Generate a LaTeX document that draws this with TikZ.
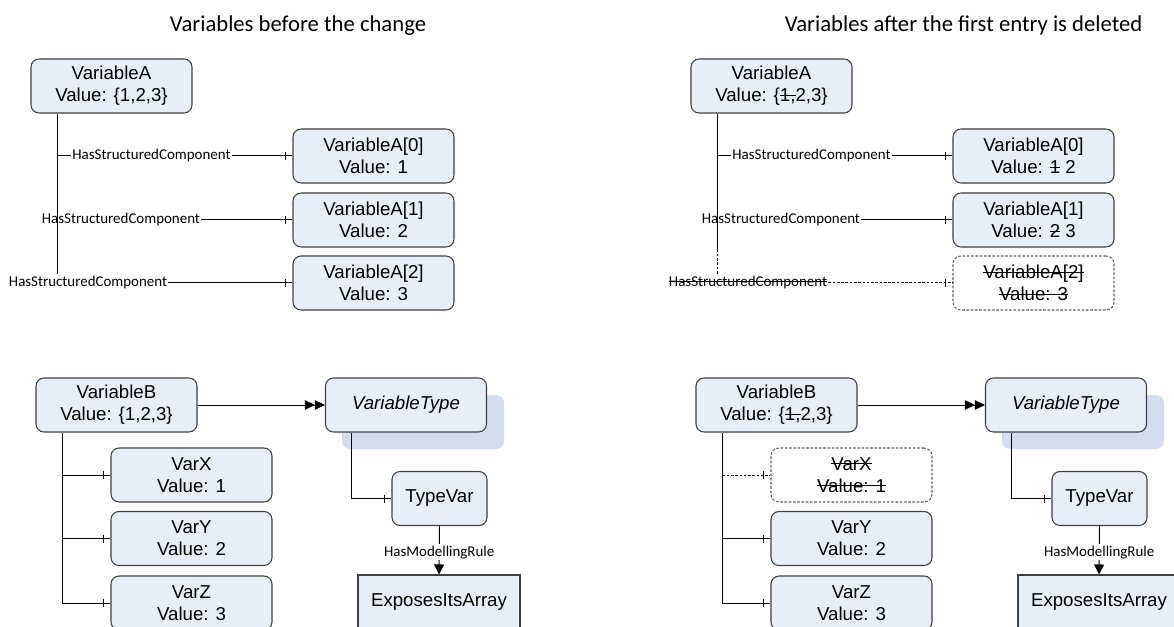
\documentclass[tikz,border=0pt]{standalone}
\usepackage{fontspec}
\setmainfont{Liberation Sans}
\newfontfamily\calfont{Carlito}
\usetikzlibrary{arrows.meta,calc}
\definecolor{boxfill}{HTML}{E8EEF8}
\definecolor{boxline}{HTML}{404040}
\definecolor{shadowfill}{HTML}{D3DDEE}
\definecolor{goneline}{HTML}{606060}
\newsavebox\strkbox
\newcommand{\strk}[1]{\sbox\strkbox{#1}\rlap{\rule[0.34em]{\wd\strkbox}{0.6pt}}\usebox\strkbox}
\newcommand{\mytick}[1]{\draw[conn] ($(#1.west)+(-7,-4)$) -- ++(0,8);}
\begin{document}
\begin{tikzpicture}[x=0.75pt,y=-0.75pt,
  vbox/.style={draw=boxline, fill=boxfill, rounded corners=6pt, line width=0.8pt,
    minimum width=120.75pt, minimum height=40.5pt, inner sep=0pt, align=center,
    font=\fontsize{14}{16.5}\selectfont},
  gonebox/.style={vbox, fill=white, draw=goneline, dash pattern=on 2pt off 1.2pt},
  lbl/.style={fill=white, inner sep=1pt, font=\calfont\fontsize{11.2}{13}\selectfont},
  ttl/.style={font=\calfont\fontsize{17}{20}\selectfont, anchor=base},
  conn/.style={draw=black, line width=0.75pt},
  gone/.style={conn, dash pattern=on 2pt off 1.2pt},
  shadowbox/.style={fill=shadowfill, rounded corners=6pt, minimum width=121.5pt,
    minimum height=40.5pt, inner sep=0pt},
  dbl/.style={-{Triangle[length=7.5pt,width=7pt]Triangle[length=7.5pt,width=7pt]}},
  sgl/.style={-{Triangle[length=7.5pt,width=7.5pt]}},
]
\useasboundingbox (0,0) rectangle (1174,627);
\clip (0,0) rectangle (1174,627);

% titles
\node[ttl] (t1) at (298,32) {Variables before the change};
\node[ttl] (t2) at (963.5,32) {Variables after the first entry is deleted};

% ---------- top left ----------
\node[vbox] (VA) at (111.5,86) {VariableA\\Value: \{1,2,3\}};
\node[vbox] (A0) at (373.5,156) {VariableA[0]\\Value: 1};
\node[vbox] (A1) at (373.5,220) {VariableA[1]\\Value: 2};
\node[vbox] (A2) at (373.5,283) {VariableA[2]\\Value: 3};
\coordinate (vaX) at ($(VA.south west)+(27,0)$);
\coordinate (vaEnd) at ($(VA.south west)+(27,160)$);
\coordinate (b3) at ($(vaX)+(0,169)$);
\draw[conn] (vaX |- A0.west) -- node[lbl,pos=0.40]{HasStructuredComponent} (A0.west);
\draw[conn] (vaX |- A1.west) -- node[lbl,pos=0.27]{HasStructuredComponent} (A1.west);
\draw[conn] (b3) -- node[lbl,pos=0.13]{HasStructuredComponent} (b3 -| A2.west);
\draw[conn] (vaX) -- (vaEnd);
\mytick{A0} \mytick{A1} \mytick{A2}

% ---------- top right ----------
\begin{scope}[xshift=495pt]
\node[vbox] (VAr) at (111.5,86) {VariableA\\Value: \{\strk{1,}2,3\}};
\node[vbox] (R0) at (373.5,156) {VariableA[0]\\Value: \strk{1} 2};
\node[vbox] (R1) at (373.5,220) {VariableA[1]\\Value: \strk{2} 3};
\node[gonebox] (R2) at (373.5,283) {\strk{VariableA[2]}\\\strk{Value: 3}};
\end{scope}
\coordinate (varX) at ($(VAr.south west)+(27,0)$);
\coordinate (varMid) at ($(VAr.south west)+(27,136)$);
\coordinate (varEnd) at ($(VAr.south west)+(27,160)$);
\coordinate (rb3) at ($(varX)+(0,169)$);
\draw[conn] (varX |- R0.west) -- node[lbl,pos=0.40]{HasStructuredComponent} (R0.west);
\draw[conn] (varX |- R1.west) -- node[lbl,pos=0.27]{HasStructuredComponent} (R1.west);
\draw[gone] (rb3) -- node[lbl,pos=0.13]{\strk{HasStructuredComponent}} (rb3 -| R2.west);
\draw[conn] (varX) -- (varMid);
\draw[gone] (varMid) -- (varEnd);
\mytick{R0} \mytick{R1} \mytick{R2}

% ---------- bottom left ----------
\node[shadowbox] (VTs) at (423,422) {};
\node[vbox] (VB) at (116.5,405) {VariableB\\Value: \{1,2,3\}};
\node[vbox, font=\fontsize{14}{16.5}\selectfont\itshape] (VT) at (406,405) {VariableType};
\node[vbox] (VX) at (191.5,475) {VarX\\Value: 1};
\node[vbox] (VY) at (191.5,538.5) {VarY\\Value: 2};
\node[vbox] (VZ) at (191.5,603) {VarZ\\Value: 3};
\node[vbox, minimum width=71.25pt] (TV) at (439.5,498.5) {TypeVar};
\node[vbox, sharp corners, minimum width=121.5pt] (EA) at (439,602) {ExposesItsArray};
\draw[conn, dbl] (VB.east) -- (VT.west);
\coordinate (vbX) at ($(VB.south west)+(27,0)$);
\draw[conn] (vbX) -- (vbX |- VZ.west) -- (VZ.west);
\draw[conn] (vbX |- VX.west) -- (VX.west);
\draw[conn] (vbX |- VY.west) -- (VY.west);
\coordinate (vtX) at ($(VT.south west)+(27,0)$);
\draw[conn] (vtX) |- (TV.west);
\draw[conn, sgl] (TV.south) -- node[lbl,pos=0.54]{HasModellingRule} (EA.north);
\mytick{VX} \mytick{VY} \mytick{VZ} \mytick{TV}

% ---------- bottom right ----------
\begin{scope}[xshift=495pt]
\node[shadowbox] (VTsr) at (423,422) {};
\node[vbox] (VBr) at (116.5,405) {VariableB\\Value: \{\strk{1,}2,3\}};
\node[vbox, font=\fontsize{14}{16.5}\selectfont\itshape] (VTr) at (406,405) {VariableType};
\node[gonebox] (VXr) at (191.5,475) {\strk{VarX}\\\strk{Value: 1}};
\node[vbox] (VYr) at (191.5,538.5) {VarY\\Value: 2};
\node[vbox] (VZr) at (191.5,603) {VarZ\\Value: 3};
\node[vbox, minimum width=71.25pt] (TVr) at (439.5,498.5) {TypeVar};
\node[vbox, sharp corners, minimum width=121.5pt] (EAr) at (439,602) {ExposesItsArray};
\end{scope}
\draw[conn, dbl] (VBr.east) -- (VTr.west);
\coordinate (vbXr) at ($(VBr.south west)+(27,0)$);
\draw[conn] (vbXr) -- (vbXr |- VZr.west) -- (VZr.west);
\draw[gone] (vbXr |- VXr.west) -- (VXr.west);
\draw[conn] (vbXr |- VYr.west) -- (VYr.west);
\coordinate (vtXr) at ($(VTr.south west)+(27,0)$);
\draw[conn] (vtXr) |- (TVr.west);
\draw[conn, sgl] (TVr.south) -- node[lbl,pos=0.54]{HasModellingRule} (EAr.north);
\mytick{VXr} \mytick{VYr} \mytick{VZr} \mytick{TVr}
\end{tikzpicture}
\end{document}
